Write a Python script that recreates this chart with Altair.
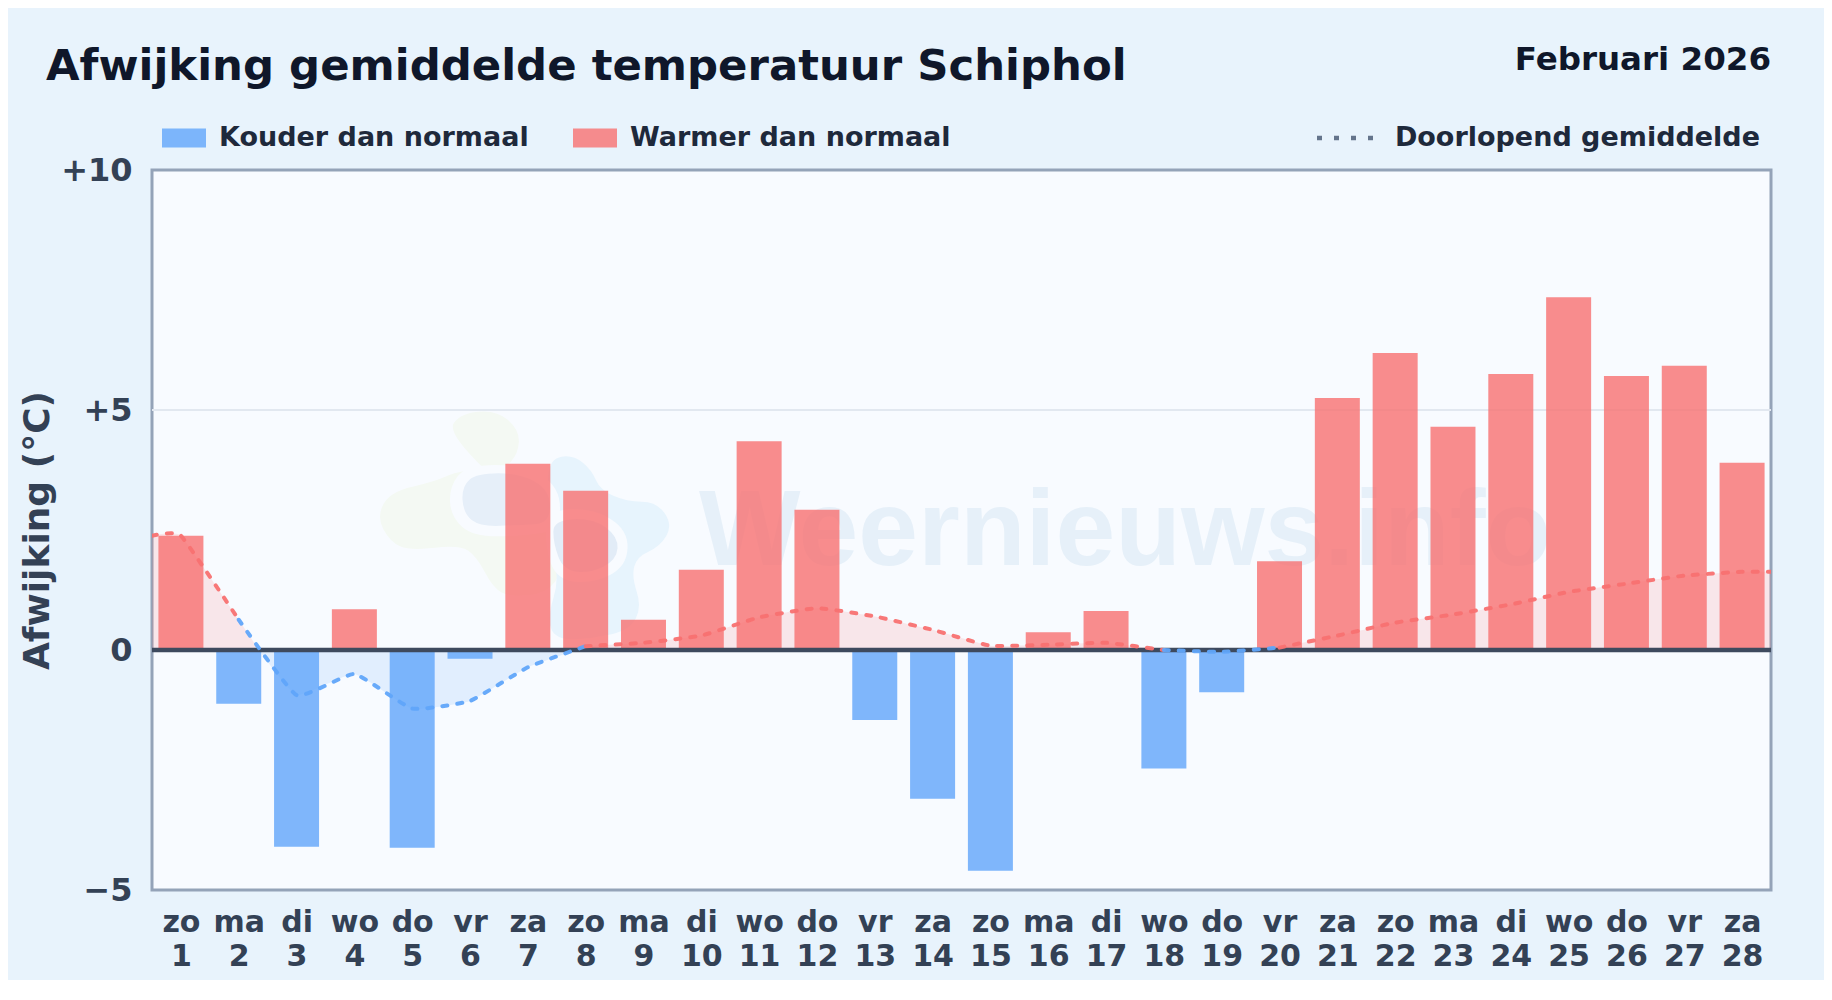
import json
import altair as alt
import pandas as pd

FONT = "DejaVu Sans"
WEEKDAYS = ["zo","ma","di","wo","do","vr","za","zo","ma","di","wo","do","vr","za",
            "zo","ma","di","wo","do","vr","za","zo","ma","di","wo","do","vr","za"]
DAYS = list(range(1, 29))
DEV = [2.38,-1.12,-4.10,0.85,-4.12,-0.18,3.88,3.32,0.63,1.67,4.35,2.92,-1.46,-3.10,
       -4.60,0.37,0.81,-2.47,-0.88,1.85,5.25,6.19,4.65,5.75,7.35,5.71,5.92,3.90]
COLD, WARM = "Kouder dan normaal", "Warmer dan normaal"
YTITLE = "Afwijking (°C)"
GRID_AT = [5]

# running mean, drawn per same-coloured stretch (x in days; 0.5 and 28.5 are the plot edges)
RUNS = [
    ("w", [0.5,1,2], [2.38,2.38,0.63]),
    ("c", [2,3,4,5,6,7,8], [0.63,-0.94,-0.50,-1.22,-1.06,-0.36,0.08]),
    ("w", [8,9,10,11,12,13,14,15,16,17,18], [0.08,0.15,0.30,0.68,0.87,0.70,0.42,0.09,0.11,0.15,0.0]),
    ("c", [18,19,20], [0.0,-0.04,0.05]),
    ("w", [20,21,22,23,24,25,26,27,28,28.5], [0.05,0.30,0.57,0.74,0.95,1.21,1.38,1.55,1.63,1.63]),
]
# shaded area under the mean, split where the curve crosses zero
AREAS = [
    ("w", [0.5,1,2,2.35], [2.38,2.38,0.63,0]),
    ("c", [2.35,3,4,5,6,7,7.85], [0,-0.94,-0.50,-1.22,-1.06,-0.36,0]),
    ("w", [7.85,8,9,10,11,12,13,14,15,16,17,18], [0,0.08,0.15,0.30,0.68,0.87,0.70,0.42,0.09,0.11,0.15,0]),
    ("c", [18,19,19.6], [0,-0.04,0]),
    ("w", [19.6,20,21,22,23,24,25,26,27,28,28.5], [0,0.05,0.30,0.57,0.74,0.95,1.21,1.38,1.55,1.63,1.63]),
]
RED, BLUE = "#f87171", "#60a5fa"
COL = {"w": RED, "c": BLUE}

W, H = 1619, 720
x_scale = alt.Scale(domain=[0.5, 28.5], nice=False, zero=False, padding=0)
y_scale = alt.Scale(domain=[-5, 10], nice=False)
X = alt.X("x:Q", scale=x_scale, title=None)
Y = alt.Y("y:Q", scale=y_scale, title=YTITLE)

bars = pd.DataFrame({"x": DAYS, "y": DEV, "kind": [WARM if v >= 0 else COLD for v in DEV]})

labels_expr = "[" + json.dumps(WEEKDAYS) + "[datum.value-1], ''+datum.value]"

# axes layer
axis_layer = alt.Chart(bars).mark_bar(opacity=0).encode(
    x=alt.X("x:Q", scale=x_scale, title=None, axis=alt.Axis(
        values=DAYS, labelExpr=labels_expr, labelOverlap=False, labelBound=False, labelFlush=False,
        domain=False, ticks=False, grid=False, labelFont=FONT, labelFontSize=30, labelFontWeight="bold",
        labelColor="#334155", labelPadding=17, labelLineHeight=34, labelAngle=0, labelBaseline="top")),
    y=alt.Y("y:Q", scale=y_scale, title=YTITLE, axis=alt.Axis(
        values=[-5, 0, 5, 10],
        labelExpr="datum.value>0 ? '+'+datum.value : (datum.value<0 ? '\u2212'+abs(datum.value) : '0')",
        domain=False, ticks=False, grid=False,
        labelFont=FONT, labelFontSize=32, labelFontWeight="bold", labelColor="#334155", labelPadding=20,
        titleFont=FONT, titleFontSize=36, titleFontWeight="bold", titleColor="#334155", titlePadding=4)),
)
grid = alt.Chart(pd.DataFrame({"y": GRID_AT})).mark_rule(color="#e2e8f0", strokeWidth=2).encode(y=Y)


def blob(pts, cx=500, cy=400, r=500):
    n = len(pts)
    p = [((a - cx) / r, (b - cy) / r) for a, b in pts]
    mid = lambda a, b: ((a[0] + b[0]) / 2, (a[1] + b[1]) / 2)
    s = mid(p[-1], p[0])
    d = f"M{s[0]:.3f},{s[1]:.3f}"
    for i in range(n):
        m = mid(p[i], p[(i + 1) % n])
        d += f"Q{p[i][0]:.3f},{p[i][1]:.3f} {m[0]:.3f},{m[1]:.3f}"
    return d + "Z"


GREEN_BLOB = blob([(262,130),(300,70),(410,60),(478,120),(475,190),(430,240),(300,240),(225,275),(90,305),
                   (50,380),(90,455),(150,482),(300,465),(350,500),(400,595),(450,620),(560,610),(610,540),
                   (570,430),(480,340)])
BLUE_BLOB = blob([(570,205),(640,195),(695,240),(720,300),(800,335),(890,335),(938,405),(900,470),(830,500),
                  (815,560),(845,650),(810,720),(700,745),(590,750),(560,690),(600,560),(560,430),(560,300)])
RING_A = blob([(268,290),(320,225),(490,225),(600,290),(600,420),(490,438),(340,440),(272,380)])
RING_B = blob([(560,360),(700,355),(805,420),(800,530),(700,580),(590,570),(555,470)])
OVAL_A = blob([(305,290),(350,250),(480,250),(570,300),(570,400),(480,405),(360,410),(310,370)])
OVAL_B = blob([(580,390),(700,385),(775,440),(770,510),(690,550),(610,540),(580,460)])
LOGO = [(GREEN_BLOB, "#f4f9f3"), (BLUE_BLOB, "#e7f4fd"), (RING_A, "#f8fbff"), (RING_B, "#f8fbff"),
        (OVAL_A, "#e6eff9"), (OVAL_B, "#e2ecf7")]

logo_layers = [
    alt.Chart(pd.DataFrame({"a": [0]})).mark_point(shape=d, filled=True, fill=c, stroke=None, opacity=1, size=111111, clip=False).encode(
        x=alt.value(374.7), y=alt.value(353.3))
    for d, c in LOGO
]
watermark = alt.Chart(pd.DataFrame({"t": ["Weernieuws.info"]})).mark_text(
    font="Liberation Sans", fontWeight="bold", fontSize=107.5, color="#e6f0f9", align="left", baseline="alphabetic").encode(
    text="t:N", x=alt.value(547), y=alt.value(395))

TENSION = 0.6
area_layers = []
for k, xs, ys in AREAS:
    df = pd.DataFrame({"x": xs, "y": ys})
    area_layers.append(alt.Chart(df).mark_area(interpolate="cardinal", tension=TENSION, color=COL[k], opacity=0.15, clip=True).encode(
        x=X, y=Y, y2=alt.datum(0)))

bar_layer = alt.Chart(bars).mark_bar(size=45, opacity=0.8).encode(
    x=X, y=Y, y2=alt.datum(0),
    color=alt.Color("kind:N", scale=alt.Scale(domain=[COLD, WARM], range=[BLUE, RED]), legend=alt.Legend(
        title=None, orient="none", legendX=10, legendY=-54, direction="horizontal", columns=2,
        symbolType="M-1,-0.43H1V0.43H-1Z", symbolSize=1936, symbolStrokeWidth=0, columnPadding=44,
        labelFont=FONT, labelFontSize=27, labelFontWeight="bold", labelColor="#1e293b", labelOffset=13,
        labelLimit=500)),
)

zero = alt.Chart(pd.DataFrame({"y": [0]})).mark_rule(color="#3e4a5e", strokeWidth=4.5).encode(y=Y)

line_layers = []
for k, xs, ys in RUNS:
    df = pd.DataFrame({"x": xs, "y": ys})
    line_layers.append(alt.Chart(df).mark_line(
        interpolate="cardinal", tension=TENSION, color=COL[k], strokeWidth=4, strokeDash=[5, 10], strokeCap="round",
        opacity=0.95, clip=True).encode(x=X, y=Y))

top_right = alt.Chart(pd.DataFrame({"t": ["Februari 2026"]})).mark_text(
    font=FONT, fontSize=32.5, fontWeight="bold", color="#0f172a", align="right", baseline="alphabetic").encode(
    text="t:N", x=alt.value(W), y=alt.value(-100))
legend_dash = alt.Chart(pd.DataFrame({"a": [0]})).mark_rule(
    color="#64748b", strokeWidth=4.5, strokeDash=[5, 12]).encode(
    x=alt.value(1165), x2=alt.value(1224), y=alt.value(-32))
legend_text = alt.Chart(pd.DataFrame({"t": ["Doorlopend gemiddelde"]})).mark_text(
    font=FONT, fontSize=27, fontWeight="bold", color="#1e293b", align="right", baseline="middle").encode(
    text="t:N", x=alt.value(W - 11), y=alt.value(-32))

chart = alt.layer(
    axis_layer, grid, *logo_layers, watermark, *area_layers, bar_layer, zero, *line_layers,
    top_right, legend_dash, legend_text,
).properties(
    width=W, height=H,
    padding={"left": 144, "top": 162, "right": 53, "bottom": 90},
    autosize=alt.AutoSizeParams(type="none"),
    background="#e8f3fc",
    title=alt.TitleParams(
        "Afwijking gemiddelde temperatuur Schiphol", anchor="start", frame="group", dx=-106, offset=0, dy=79,
        baseline="alphabetic", font=FONT, fontSize=43.4, fontWeight="bold", color="#0f172a"),
).configure_view(fill="#f8fbff", stroke="#94a3b8", strokeWidth=3)

chart.save("out.html", embed_options={"renderer": "svg", "actions": False})
